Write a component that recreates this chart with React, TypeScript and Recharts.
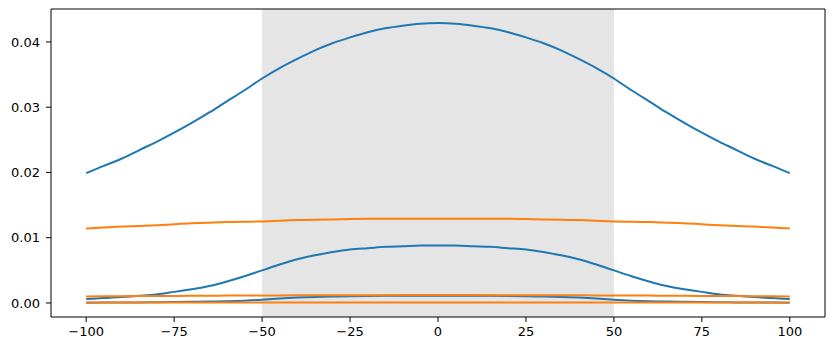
import React from "react";
import { LineChart, Line, XAxis, YAxis, ReferenceArea, ReferenceLine } from "recharts";

const xs = [-100, -95, -90, -85, -80, -75, -70, -65, -60, -55, -50, -45, -40, -35, -30, -25, -20, -15, -10, -5, 0, 5, 10, 15, 20, 25, 30, 35, 40, 45, 50, 55, 60, 65, 70, 75, 80, 85, 90, 95, 100];

// left half (-100 .. 0); the curves are mirrored on the right side
const blueTopHalf = [0.0199, 0.021, 0.0221, 0.0234, 0.0247, 0.0261, 0.0276, 0.0292, 0.0309, 0.0326, 0.0344, 0.036, 0.0374, 0.0387, 0.0398, 0.0407, 0.0415, 0.0421, 0.0425, 0.0428, 0.0429];
const blueMidHalf = [0.0006, 0.00075, 0.0009, 0.0011, 0.0013, 0.0017, 0.0021, 0.0026, 0.0033, 0.0041, 0.005, 0.0059, 0.0067, 0.0073, 0.0078, 0.0082, 0.0084, 0.0086, 0.0087, 0.0088, 0.0088];
const blueLowHalf = [0.00005, 0.00006, 0.00007, 0.00009, 0.00011, 0.00014, 0.00017, 0.00021, 0.00026, 0.00035, 0.0005, 0.00068, 0.00082, 0.00092, 0.00099, 0.00104, 0.00107, 0.00109, 0.0011, 0.00111, 0.00111];
const orangeTopHalf = [0.0114, 0.01155, 0.0117, 0.0118, 0.0119, 0.01205, 0.0122, 0.0123, 0.0124, 0.01245, 0.0125, 0.0126, 0.0127, 0.01275, 0.0128, 0.01285, 0.0129, 0.0129, 0.0129, 0.0129, 0.0129];
const orangeMidHalf = [0.001, 0.00102, 0.00104, 0.00105, 0.00107, 0.00108, 0.0011, 0.00111, 0.00113, 0.00114, 0.00115, 0.00116, 0.00117, 0.00118, 0.00119, 0.00119, 0.0012, 0.0012, 0.00121, 0.00121, 0.00121];
const orangeLowHalf = [0.00007, 0.00007, 0.00007, 0.00008, 0.00008, 0.00008, 0.00008, 0.00008, 0.00008, 0.00008, 0.00008, 0.00008, 0.00008, 0.00008, 0.00008, 0.00008, 0.00008, 0.00008, 0.00008, 0.00008, 0.00008];

const mirror = (half: number[]) => [...half, ...half.slice(0, -1).reverse()];
const blueTop = mirror(blueTopHalf);
const blueMid = mirror(blueMidHalf);
const blueLow = mirror(blueLowHalf);
const orangeTop = mirror(orangeTopHalf);
const orangeMid = mirror(orangeMidHalf);
const orangeLow = mirror(orangeLowHalf);

const xTicks = [-100, -75, -50, -25, 0, 25, 50, 75, 100];
const yTicks = [0, 0.01, 0.02, 0.03, 0.04];
const xDomain = [-110, 110];
const yDomain = [-0.00215, 0.04505];
const spanStart = -50;
const spanEnd = 50;

const data = xs.map((x, i) => ({
  x,
  b1: blueTop[i],
  b2: blueMid[i],
  b3: blueLow[i],
  o1: orangeTop[i],
  o2: orangeMid[i],
  o3: orangeLow[i],
}));

const BLUE = "#1f77b4";
const ORANGE = "#ff7f0e";
const tickStyle = { fontFamily: "DejaVu Sans", fontSize: 13, fill: "#000" };
const fmtX = (v: number) => String(v).replace("-", "\u2212");
const fmtY = (v: number) => v.toFixed(2);

export default function App() {
  return (
    <div style={{ position: "absolute", left: 0, top: 0, background: "#fff" }}>
      <LineChart width={835} height={351} data={data} margin={{ top: 9, right: 10, left: 0, bottom: 0 }}>
        <ReferenceArea x1={spanStart} x2={spanEnd} fill="#e5e5e5" fillOpacity={1} stroke="none" />
        <XAxis
          dataKey="x"
          type="number"
          domain={xDomain}
          ticks={xTicks}
          tickFormatter={fmtX}
          height={34}
          tickSize={5}
          tickMargin={5}
          tick={tickStyle}
          stroke="#000"
          axisLine={{ stroke: "#000", strokeWidth: 1 }}
          tickLine={{ stroke: "#000" }}
          allowDataOverflow
        />
        <YAxis
          type="number"
          domain={yDomain}
          ticks={yTicks}
          tickFormatter={fmtY}
          width={51}
          tickSize={5}
          tickMargin={6}
          tick={tickStyle}
          stroke="#000"
          axisLine={{ stroke: "#000", strokeWidth: 1 }}
          tickLine={{ stroke: "#000" }}
          allowDataOverflow
        />
        <ReferenceLine x={xDomain[1]} stroke="#000" strokeWidth={1} />
        <ReferenceLine y={yDomain[1]} stroke="#000" strokeWidth={1} />
        <Line dataKey="b1" type="natural" stroke={BLUE} strokeWidth={2} dot={false} isAnimationActive={false} />
        <Line dataKey="b2" type="natural" stroke={BLUE} strokeWidth={2} dot={false} isAnimationActive={false} />
        <Line dataKey="b3" type="natural" stroke={BLUE} strokeWidth={2} dot={false} isAnimationActive={false} />
        <Line dataKey="o1" type="natural" stroke={ORANGE} strokeWidth={2} dot={false} isAnimationActive={false} />
        <Line dataKey="o2" type="natural" stroke={ORANGE} strokeWidth={2} dot={false} isAnimationActive={false} />
        <Line dataKey="o3" type="natural" stroke={ORANGE} strokeWidth={2} dot={false} isAnimationActive={false} />
      </LineChart>
    </div>
  );
}
